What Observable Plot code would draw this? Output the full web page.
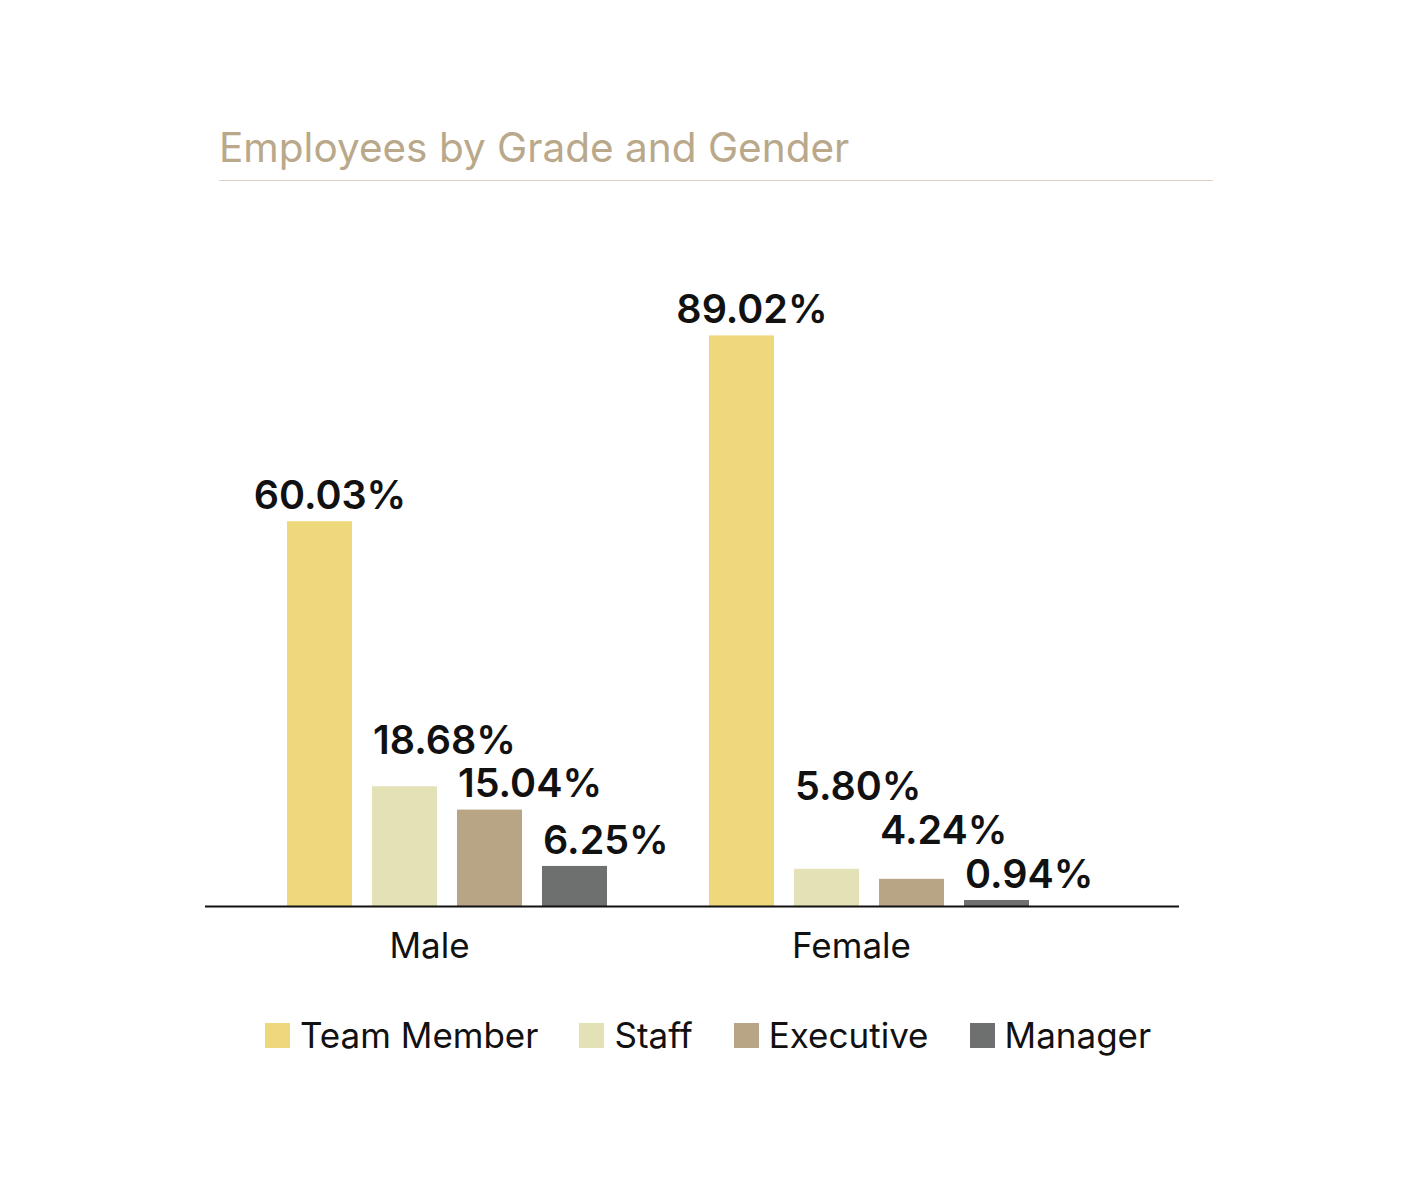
<!DOCTYPE html>
<html><head><meta charset="utf-8">
<script src="https://cdn.jsdelivr.net/npm/d3@7"></script>
<script src="https://cdn.jsdelivr.net/npm/@observablehq/plot@0.6"></script>
<style>
html,body{margin:0;padding:0;background:#fff;}
body{width:1417px;height:1181px;position:relative;overflow:hidden;font-family:Inter,"DejaVu Sans",sans-serif;}
#title{position:absolute;left:219px;top:128px;font-size:40.5px;line-height:40px;color:#b9a98a;font-weight:400;white-space:nowrap;}
#rule{position:absolute;left:219px;top:180px;width:994px;height:0;border-top:1.5px solid #dcd2bf;}
#chart{position:absolute;left:0;top:200px;}
#legend{position:absolute;left:265px;top:1014px;height:42px;display:flex;align-items:center;font-size:35px;color:#111;}
#legend .item{display:flex;align-items:center;margin-right:41px;}
#legend .sw{width:25px;height:25px;margin-right:10px;}
</style>
</head><body>
<div id="title">Employees by Grade and Gender</div>
<div id="rule"></div>
<div id="chart"></div>
<div id="legend"></div>
<script>
const genders = ["Male", "Female"];
const grades = ["Team Member", "Staff", "Executive", "Manager"];
const maleValues = [60.03, 18.68, 15.04, 6.25];
const femaleValues = [89.02, 5.80, 4.24, 0.94];
const colors = ["#EFD87B", "#E3E1B6", "#B8A586", "#6E6F6F"];

const valuesByGender = {Male: maleValues, Female: femaleValues};
const rows = [];
genders.forEach(g => {
  valuesByGender[g].forEach((v, i) => rows.push({gender: g, grade: grades[i], index: i, value: v}));
});

// label layout: place each label above its bar, lifting it above the neighbouring label to its right if they collide
const labelGap = 2.0, labelHeight = 6.8;
genders.forEach(g => {
  const grp = rows.filter(d => d.gender === g);
  let prev = null;
  for (let i = grp.length - 1; i >= 0; i--) {
    const natural = grp[i].value + labelGap;
    grp[i].labelY = prev == null ? natural : Math.max(natural, prev + labelHeight);
    prev = grp[i].labelY;
  }
});

const fmt = d => d.value.toFixed(2) + "%";
const textStyle = {fontSize: 39.5, fontWeight: 600, fill: "#111", lineAnchor: "bottom", fontFamily: "Inter"};

const chart = Plot.plot({
  width: 1417,
  height: 786,
  marginLeft: 286,
  marginRight: 387,
  marginTop: 65,
  marginBottom: 80,
  style: {fontFamily: "Inter", fontSize: "34px", color: "#111", background: "transparent"},
  fx: {domain: genders, paddingInner: 0.238, paddingOuter: 0, axis: null},
  x: {domain: grades, paddingInner: 0.24, paddingOuter: 0, axis: null},
  y: {domain: [0, 100], axis: null},
  color: {domain: grades, range: colors},
  marks: [
    Plot.barY(rows, {fx: "gender", x: "grade", y: "value", fill: "grade"}),
    Plot.ruleY([{gender: "Male", y: 0}], {fx: "gender", y: "y", insetLeft: -81, insetRight: -571, stroke: "#111", strokeWidth: 2}),
    Plot.text(rows.filter(d => d.index === 0), {fx: "gender", x: "grade", y: "labelY", text: fmt, textAnchor: "middle", dx: 10, ...textStyle}),
    Plot.text(rows.filter(d => d.index > 0), {fx: "gender", x: "grade", y: "labelY", text: fmt, textAnchor: "start", dx: -32, ...textStyle}),
    Plot.text(genders, {fx: d => d, text: d => d, frameAnchor: "bottom", dy: 51, dx: -18, fontSize: 35, fill: "#111", fontFamily: "Inter"})
  ]
});
document.getElementById("chart").appendChild(chart);

const legend = document.getElementById("legend");
grades.forEach((g, i) => {
  const item = document.createElement("div");
  item.className = "item";
  const sw = document.createElement("div");
  sw.className = "sw";
  sw.style.background = colors[i];
  const label = document.createElement("span");
  label.textContent = g;
  item.appendChild(sw);
  item.appendChild(label);
  legend.appendChild(item);
});
</script>
</body></html>
